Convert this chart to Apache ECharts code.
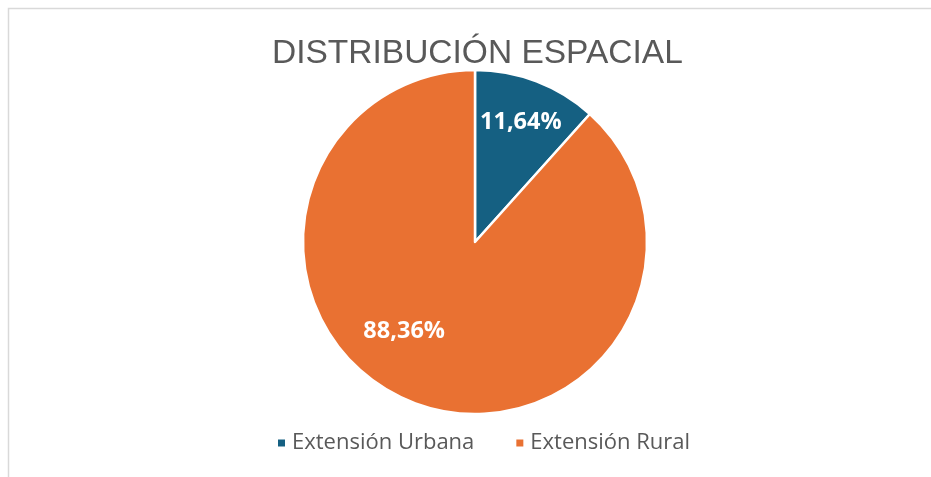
<!DOCTYPE html>
<html>
<head>
<meta charset="utf-8">
<script src="https://cdn.jsdelivr.net/npm/echarts@6/dist/echarts.min.js"></script>
<style>
  html, body { margin: 0; padding: 0; background: #fff; }
  #chart { width: 931px; height: 477px; }
</style>
</head>
<body>
<div id="chart"></div>
<script>
const categories = ["Extensión Urbana", "Extensión Rural"];
const values = [11.64, 88.36];
const colors = ["#156082", "#E97132"];
const labelOffsets = [[14, -37], [-39, 6]];

const chart = echarts.init(document.getElementById("chart"));

const option = {
  animation: false,
  title: {
    text: "DISTRIBUCIÓN ESPACIAL",
    left: 267,
    top: 32,
    textStyle: {
      fontFamily: "Liberation Sans",
      fontWeight: "normal",
      fontSize: 33.5,
      color: "#595959"
    }
  },
  graphic: [{
    type: "rect",
    shape: { x: 8.5, y: 8.5, width: 1000, height: 1000 },
    style: { fill: "none", stroke: "#d9d9d9", lineWidth: 1.5 },
    silent: true
  }],
  legend: {
    bottom: 18,
    left: 271,
    icon: "rect",
    itemWidth: 9,
    itemHeight: 9,
    itemGap: 40,
    textStyle: {
      fontFamily: "Open Sans",
      fontSize: 22,
      color: "#595959",
      padding: [0, 0, 0, 1]
    },
    data: categories
  },
  series: [{
    type: "pie",
    center: [475, 242],
    radius: [0, 172],
    startAngle: 90,
    clockwise: true,
    itemStyle: { borderColor: "#fff", borderWidth: 2.5 },
    label: {
      show: true,
      position: "inside",
      formatter: p => p.value.toFixed(2).replace(".", ",") + "%",
      color: "#fff",
      fontFamily: "Open Sans",
      fontWeight: "bold",
      fontSize: 23.5
    },
    labelLine: { show: false },
    data: categories.map((name, i) => ({
      name: name,
      value: values[i],
      itemStyle: { color: colors[i] },
      label: { offset: labelOffsets[i] }
    }))
  }]
};

chart.setOption(option);
</script>
</body>
</html>
